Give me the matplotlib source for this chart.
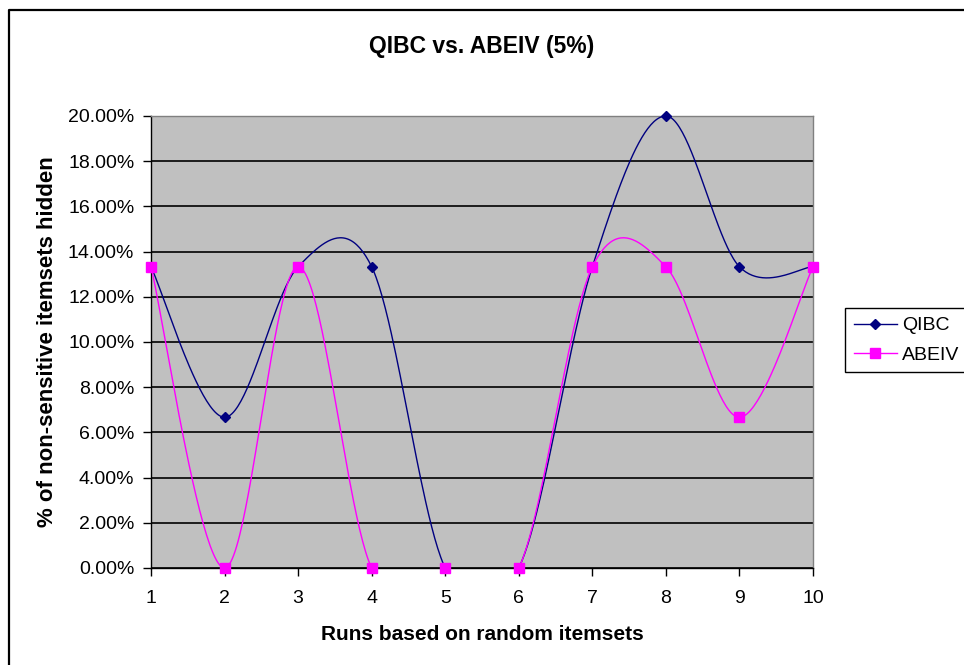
import numpy as np
import matplotlib
matplotlib.use("Agg")
import matplotlib.pyplot as plt
from matplotlib.lines import Line2D
from matplotlib.ticker import FuncFormatter

plt.rcParams['font.family'] = ['Liberation Sans', 'DejaVu Sans']

runs = [1, 2, 3, 4, 5, 6, 7, 8, 9, 10]
qibc = [13.33, 6.67, 13.33, 13.33, 0.0, 0.0, 13.33, 20.0, 13.33, 13.33]
abeiv = [13.33, 0.0, 13.33, 0.0, 0.0, 0.0, 13.33, 13.33, 6.67, 13.33]
series_names = ['QIBC', 'ABEIV']

W, H = 964, 665


def smooth(xs, ys, steps=50):
    # smoothed line: cubic bezier through the points, handles taken from
    # the neighbouring points (end points repeated)
    p = np.column_stack([xs, ys]).astype(float)
    p = np.vstack([p[0], p, p[-1]])
    t = np.linspace(0, 1, steps)[:, None]
    out = []
    for i in range(1, len(p) - 2):
        p0, p1 = p[i], p[i + 1]
        c1 = p0 + (p[i + 1] - p[i - 1]) / 6.0
        c2 = p1 - (p[i + 2] - p[i]) / 6.0
        seg = ((1 - t) ** 3) * p0 + 3 * ((1 - t) ** 2) * t * c1 \
            + 3 * (1 - t) * t ** 2 * c2 + t ** 3 * p1
        out.append(seg if i == 1 else seg[1:])
    out = np.vstack(out)
    return out[:, 0], out[:, 1]


fig = plt.figure(figsize=(W / 100, H / 100), dpi=100)

# outer chart border (left and top edges)
fig.add_artist(Line2D([9 / W, 9 / W, 1.01], [-0.01, 1 - 10 / H, 1 - 10 / H],
                      transform=fig.transFigure, color='black', lw=1.6))

ax = fig.add_axes([151 / W, 97 / H, 662 / W, 452 / H])
ax.set_facecolor('#C0C0C0')
ax.set_xlim(1, 10)
ax.set_ylim(0, 20)
ax.set_yticks(np.arange(0, 21, 2))
ax.set_xticks(runs)
ax.yaxis.set_major_formatter(FuncFormatter(lambda v, _: '%.2f%%' % v))
ax.grid(axis='y', color='black', lw=1.2)
ax.set_axisbelow(True)

for s in ['top', 'right']:
    ax.spines[s].set_color('#808080')
    ax.spines[s].set_linewidth(1.0)
for s in ['left', 'bottom']:
    ax.spines[s].set_color('black')
    ax.spines[s].set_linewidth(1.0)

ax.tick_params(axis='both', direction='out', length=6, width=1.0,
               labelsize=14, colors='black')
ax.tick_params(axis='x', pad=10)
ax.tick_params(axis='y', pad=6)

# curves are clipped to the plot area, markers are not
sx, sy = smooth(runs, qibc)
ax.plot(sx, sy, color='#000080', lw=1.0, zorder=3)
ax.plot(runs, qibc, ls='none', marker='D', ms=5.5, color='#000080',
        clip_on=False, zorder=4)

sx, sy = smooth(runs, abeiv)
ax.plot(sx, sy, color='#FF00FF', lw=1.0, zorder=3)
ax.plot(runs, abeiv, ls='none', marker='s', ms=6.5, color='#FF00FF',
        clip_on=False, zorder=4)

ax.set_title('QIBC vs. ABEIV (5%)', fontsize=16.5, fontweight='bold', pad=45)
ax.set_xlabel('Runs based on random itemsets', fontsize=15,
              fontweight='bold', labelpad=13)
ax.set_ylabel('% of non-sensitive itemsets hidden', fontsize=16,
              fontweight='bold', labelpad=7)

handles = [
    Line2D([], [], color='#000080', lw=1.0, marker='D', ms=5.5),
    Line2D([], [], color='#FF00FF', lw=1.0, marker='s', ms=6.5),
]
leg = fig.legend(handles, series_names, loc='upper left',
                 bbox_to_anchor=(845 / W, 1 - 308 / H), fontsize=14,
                 frameon=True, fancybox=False, edgecolor='black',
                 framealpha=1, borderpad=0.45, handlelength=2.2,
                 handletextpad=0.3, labelspacing=0.6, borderaxespad=0)
leg.get_frame().set_linewidth(1.0)

fig.savefig('out.png', dpi=100)
